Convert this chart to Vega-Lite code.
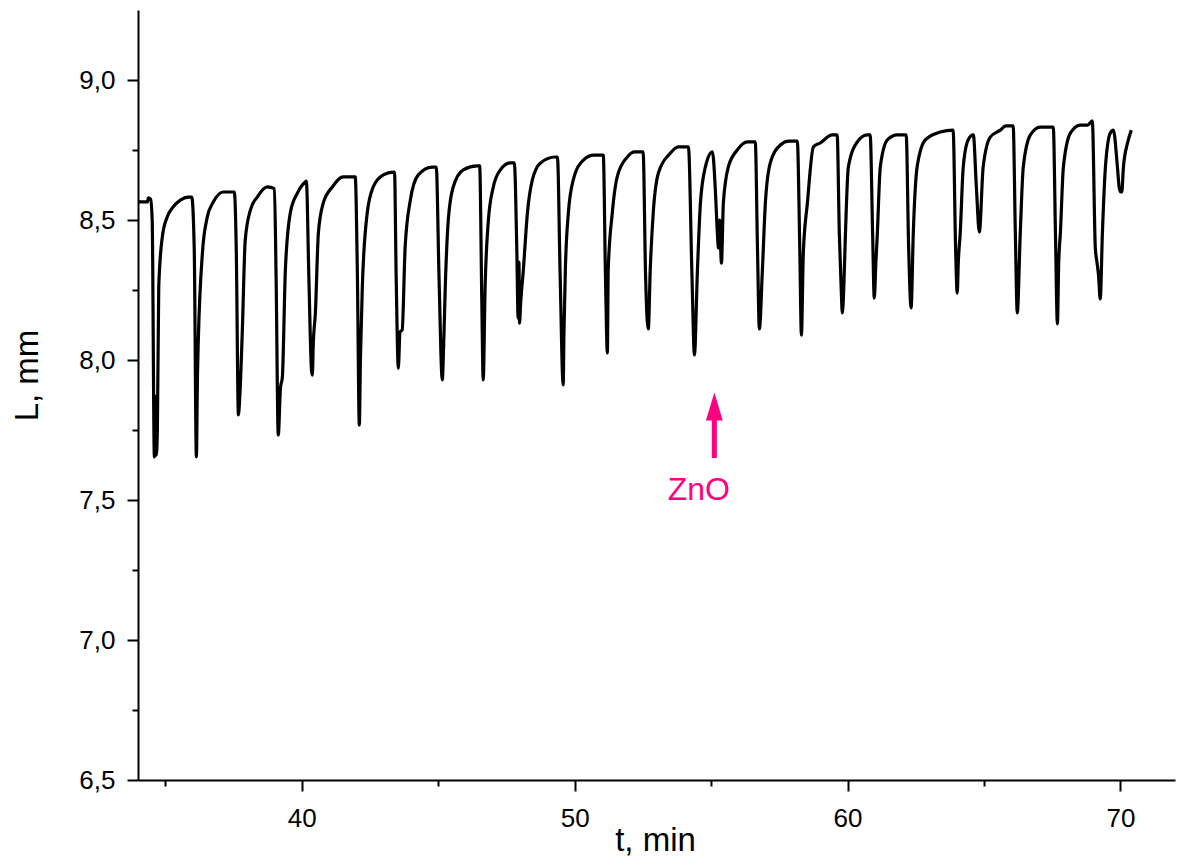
{
  "$schema": "https://vega.github.io/schema/vega-lite/v6.json",
  "width": 1037,
  "height": 770,
  "autosize": {"type": "none"},
  "padding": {"left": 138, "top": 10, "right": 2, "bottom": 81},
  "background": "white",
  "config": {
    "view": {"stroke": null},
    "font": "Liberation Sans",
    "axis": {
      "domainColor": "black",
      "domainWidth": 2,
      "tickColor": "black",
      "tickWidth": 2,
      "grid": false,
      "labelFont": "Liberation Sans",
      "labelFontSize": 26,
      "labelColor": "black",
      "titleFont": "Liberation Sans",
      "titleFontSize": 33,
      "titleFontWeight": "normal",
      "titleColor": "black"
    }
  },
  "datasets": {
    "curve": [
      {"t": 34.00, "L": 8.565}, {"t": 34.35, "L": 8.565}, {"t": 34.38, "L": 8.579}, {"t": 34.46, "L": 8.575}, {"t": 34.52, "L": 8.50},
      {"t": 34.60, "L": 7.654}, {"t": 34.64, "L": 7.87}, {"t": 34.67, "L": 7.66}, {"t": 34.71, "L": 7.75}, {"t": 34.76, "L": 8.261},
      {"t": 34.89, "L": 8.439}, {"t": 35.07, "L": 8.511}, {"t": 35.26, "L": 8.543}, {"t": 35.55, "L": 8.571}, {"t": 35.84, "L": 8.582}, {"t": 35.97, "L": 8.582},
      {"t": 36.06, "L": 8.40}, {"t": 36.14, "L": 7.654}, {"t": 36.18, "L": 7.95}, {"t": 36.21, "L": 8.071}, {"t": 36.36, "L": 8.382},
      {"t": 36.54, "L": 8.511}, {"t": 36.76, "L": 8.564}, {"t": 37.13, "L": 8.600}, {"t": 37.53, "L": 8.600},
      {"t": 37.60, "L": 8.40}, {"t": 37.68, "L": 7.804}, {"t": 37.73, "L": 7.87}, {"t": 37.82, "L": 8.096}, {"t": 37.93, "L": 8.429},
      {"t": 38.12, "L": 8.536}, {"t": 38.37, "L": 8.582}, {"t": 38.74, "L": 8.618}, {"t": 39.00, "L": 8.612},
      {"t": 39.06, "L": 8.30}, {"t": 39.14, "L": 7.732}, {"t": 39.22, "L": 7.90}, {"t": 39.29, "L": 7.939}, {"t": 39.40, "L": 8.321},
      {"t": 39.58, "L": 8.525}, {"t": 39.84, "L": 8.596}, {"t": 40.13, "L": 8.636}, {"t": 40.17, "L": 8.639},
      {"t": 40.26, "L": 8.30}, {"t": 40.36, "L": 7.96}, {"t": 40.39, "L": 7.946}, {"t": 40.42, "L": 8.05}, {"t": 40.50, "L": 8.168},
      {"t": 40.61, "L": 8.454}, {"t": 40.79, "L": 8.561}, {"t": 41.12, "L": 8.618}, {"t": 41.52, "L": 8.654}, {"t": 41.96, "L": 8.654},
      {"t": 42.04, "L": 8.30}, {"t": 42.11, "L": 7.768}, {"t": 42.15, "L": 8.0}, {"t": 42.22, "L": 8.261}, {"t": 42.40, "L": 8.525},
      {"t": 42.62, "L": 8.618}, {"t": 42.99, "L": 8.661}, {"t": 43.35, "L": 8.671}, {"t": 43.40, "L": 8.671},
      {"t": 43.46, "L": 8.30}, {"t": 43.54, "L": 7.971}, {"t": 43.60, "L": 8.10}, {"t": 43.68, "L": 8.107}, {"t": 43.79, "L": 8.404},
      {"t": 43.98, "L": 8.571}, {"t": 44.27, "L": 8.661}, {"t": 44.78, "L": 8.689}, {"t": 44.93, "L": 8.689},
      {"t": 45.03, "L": 8.30}, {"t": 45.15, "L": 7.929}, {"t": 45.20, "L": 8.05}, {"t": 45.26, "L": 8.261}, {"t": 45.37, "L": 8.500},
      {"t": 45.55, "L": 8.618}, {"t": 45.92, "L": 8.679}, {"t": 46.43, "L": 8.693}, {"t": 46.52, "L": 8.693},
      {"t": 46.60, "L": 8.20}, {"t": 46.65, "L": 7.929}, {"t": 46.72, "L": 8.261}, {"t": 46.84, "L": 8.500}, {"t": 47.02, "L": 8.618},
      {"t": 47.28, "L": 8.679}, {"t": 47.64, "L": 8.704}, {"t": 47.79, "L": 8.704},
      {"t": 47.88, "L": 8.40}, {"t": 47.93, "L": 8.15}, {"t": 47.96, "L": 8.35}, {"t": 47.98, "L": 8.132}, {"t": 48.02, "L": 8.20},
      {"t": 48.12, "L": 8.321}, {"t": 48.27, "L": 8.525}, {"t": 48.45, "L": 8.643}, {"t": 48.75, "L": 8.704}, {"t": 49.29, "L": 8.725}, {"t": 49.37, "L": 8.725},
      {"t": 49.47, "L": 8.30}, {"t": 49.58, "L": 7.911}, {"t": 49.61, "L": 8.10}, {"t": 49.66, "L": 8.321}, {"t": 49.77, "L": 8.525},
      {"t": 49.95, "L": 8.643}, {"t": 50.32, "L": 8.714}, {"t": 50.70, "L": 8.732}, {"t": 51.05, "L": 8.732},
      {"t": 51.13, "L": 8.30}, {"t": 51.20, "L": 8.025}, {"t": 51.23, "L": 8.321}, {"t": 51.38, "L": 8.525}, {"t": 51.56, "L": 8.654},
      {"t": 51.93, "L": 8.725}, {"t": 52.20, "L": 8.743}, {"t": 52.51, "L": 8.743},
      {"t": 52.60, "L": 8.30}, {"t": 52.66, "L": 8.14}, {"t": 52.70, "L": 8.111}, {"t": 52.77, "L": 8.321}, {"t": 52.88, "L": 8.525},
      {"t": 53.07, "L": 8.668}, {"t": 53.51, "L": 8.739}, {"t": 53.80, "L": 8.761}, {"t": 54.17, "L": 8.761},
      {"t": 54.30, "L": 8.30}, {"t": 54.39, "L": 8.018}, {"t": 54.50, "L": 8.321}, {"t": 54.61, "L": 8.561}, {"t": 54.79, "L": 8.689}, {"t": 55.05, "L": 8.743},
      {"t": 55.16, "L": 8.60}, {"t": 55.23, "L": 8.454}, {"t": 55.27, "L": 8.40}, {"t": 55.31, "L": 8.50}, {"t": 55.38, "L": 8.346},
      {"t": 55.45, "L": 8.561}, {"t": 55.63, "L": 8.689}, {"t": 55.96, "L": 8.750}, {"t": 56.33, "L": 8.779}, {"t": 56.62, "L": 8.779},
      {"t": 56.70, "L": 8.40}, {"t": 56.77, "L": 8.111}, {"t": 56.88, "L": 8.321}, {"t": 56.99, "L": 8.561}, {"t": 57.17, "L": 8.704},
      {"t": 57.54, "L": 8.768}, {"t": 57.85, "L": 8.782}, {"t": 58.16, "L": 8.782},
      {"t": 58.25, "L": 8.40}, {"t": 58.31, "L": 8.089}, {"t": 58.38, "L": 8.382}, {"t": 58.53, "L": 8.561}, {"t": 58.75, "L": 8.761},
      {"t": 59.00, "L": 8.775}, {"t": 59.44, "L": 8.804}, {"t": 59.62, "L": 8.804},
      {"t": 59.70, "L": 8.45}, {"t": 59.77, "L": 8.25}, {"t": 59.81, "L": 8.168}, {"t": 59.86, "L": 8.25}, {"t": 59.92, "L": 8.439},
      {"t": 60.03, "L": 8.689}, {"t": 60.36, "L": 8.779}, {"t": 60.72, "L": 8.804}, {"t": 60.83, "L": 8.804},
      {"t": 60.92, "L": 8.45}, {"t": 60.98, "L": 8.221}, {"t": 61.04, "L": 8.35}, {"t": 61.09, "L": 8.446}, {"t": 61.20, "L": 8.689},
      {"t": 61.46, "L": 8.786}, {"t": 61.82, "L": 8.804}, {"t": 62.15, "L": 8.804},
      {"t": 62.24, "L": 8.40}, {"t": 62.33, "L": 8.186}, {"t": 62.41, "L": 8.454}, {"t": 62.55, "L": 8.689}, {"t": 62.85, "L": 8.786},
      {"t": 63.40, "L": 8.814}, {"t": 63.87, "L": 8.821},
      {"t": 63.96, "L": 8.40}, {"t": 64.02, "L": 8.239}, {"t": 64.06, "L": 8.35}, {"t": 64.13, "L": 8.454}, {"t": 64.24, "L": 8.689},
      {"t": 64.42, "L": 8.786}, {"t": 64.61, "L": 8.804},
      {"t": 64.72, "L": 8.62}, {"t": 64.83, "L": 8.457}, {"t": 64.97, "L": 8.689}, {"t": 65.23, "L": 8.796}, {"t": 65.60, "L": 8.821},
      {"t": 65.80, "L": 8.836}, {"t": 66.07, "L": 8.836},
      {"t": 66.15, "L": 8.45}, {"t": 66.22, "L": 8.168}, {"t": 66.33, "L": 8.454}, {"t": 66.44, "L": 8.689}, {"t": 66.70, "L": 8.804},
      {"t": 67.06, "L": 8.832}, {"t": 67.54, "L": 8.832},
      {"t": 67.62, "L": 8.45}, {"t": 67.69, "L": 8.129}, {"t": 67.74, "L": 8.35}, {"t": 67.80, "L": 8.454}, {"t": 67.91, "L": 8.689},
      {"t": 68.17, "L": 8.811}, {"t": 68.53, "L": 8.839}, {"t": 68.80, "L": 8.839}, {"t": 68.97, "L": 8.854},
      {"t": 69.08, "L": 8.40}, {"t": 69.14, "L": 8.35}, {"t": 69.20, "L": 8.30}, {"t": 69.26, "L": 8.218}, {"t": 69.34, "L": 8.454},
      {"t": 69.45, "L": 8.689}, {"t": 69.63, "L": 8.811}, {"t": 69.74, "L": 8.821},
      {"t": 69.89, "L": 8.689}, {"t": 69.95, "L": 8.62}, {"t": 70.00, "L": 8.600}, {"t": 70.05, "L": 8.60}, {"t": 70.11, "L": 8.689},
      {"t": 70.26, "L": 8.775}, {"t": 70.40, "L": 8.821}
    ],
    "arrow": [{"t": 55.12, "L1": 7.65, "L2": 7.80, "Lhead": 7.834, "label": "ZnO", "tl": 54.55, "Ll": 7.50}]
  },
  "layer": [
    {
      "data": {"name": "curve"},
      "mark": {"type": "line", "color": "black", "strokeWidth": 3.2, "interpolate": "monotone", "clip": true},
      "encoding": {
        "x": {
          "field": "t", "type": "quantitative",
          "scale": {"domain": [34, 72], "nice": false, "zero": false},
          "axis": {
            "title": "t, min",
            "values": [35, 40, 45, 50, 55, 60, 65, 70],
            "labelExpr": "datum.value % 10 === 0 ? datum.label : ''",
            "tickSize": {"condition": {"test": "datum.value % 10 === 0", "value": 11}, "value": 6},
            "labelPadding": 14,
            "labelFlush": false,
            "titleX": 517,
            "titleY": 70,
            "titleBaseline": "alphabetic",
            "titleAlign": "center"
          }
        },
        "y": {
          "field": "L", "type": "quantitative",
          "scale": {"domain": [6.5, 9.25], "nice": false, "zero": false},
          "axis": {
            "title": "L, mm",
            "values": [6.5, 6.75, 7.0, 7.25, 7.5, 7.75, 8.0, 8.25, 8.5, 8.75, 9.0],
            "labelExpr": "abs(datum.value * 2 - round(datum.value * 2)) < 0.001 ? replace(format(datum.value, '.1f'), '.', ',') : ''",
            "tickSize": {"condition": {"test": "abs(datum.value * 2 - round(datum.value * 2)) < 0.001", "value": 11}, "value": 6},
            "labelPadding": 12,
            "labelFlush": false,
            "titleAngle": -90,
            "titleX": -101,
            "titleY": 365,
            "titleBaseline": "alphabetic",
            "titleAlign": "center"
          }
        }
      }
    },
    {
      "data": {"name": "arrow"},
      "mark": {"type": "rule", "color": "#ff0080", "strokeWidth": 5},
      "encoding": {
        "x": {"field": "t", "type": "quantitative"},
        "y": {"field": "L1", "type": "quantitative"},
        "y2": {"field": "L2"}
      }
    },
    {
      "data": {"name": "arrow"},
      "mark": {"type": "point", "shape": "M0,-1L0.6,1L-0.6,1Z", "filled": true, "color": "#ff0080", "opacity": 1, "size": 784},
      "encoding": {
        "x": {"field": "t", "type": "quantitative"},
        "y": {"field": "Lhead", "type": "quantitative"}
      }
    },
    {
      "data": {"name": "arrow"},
      "mark": {"type": "text", "color": "#ff0080", "fontSize": 32, "font": "Liberation Sans", "align": "center", "baseline": "alphabetic"},
      "encoding": {
        "x": {"field": "tl", "type": "quantitative"},
        "y": {"field": "Ll", "type": "quantitative"},
        "text": {"field": "label"}
      }
    }
  ]
}
